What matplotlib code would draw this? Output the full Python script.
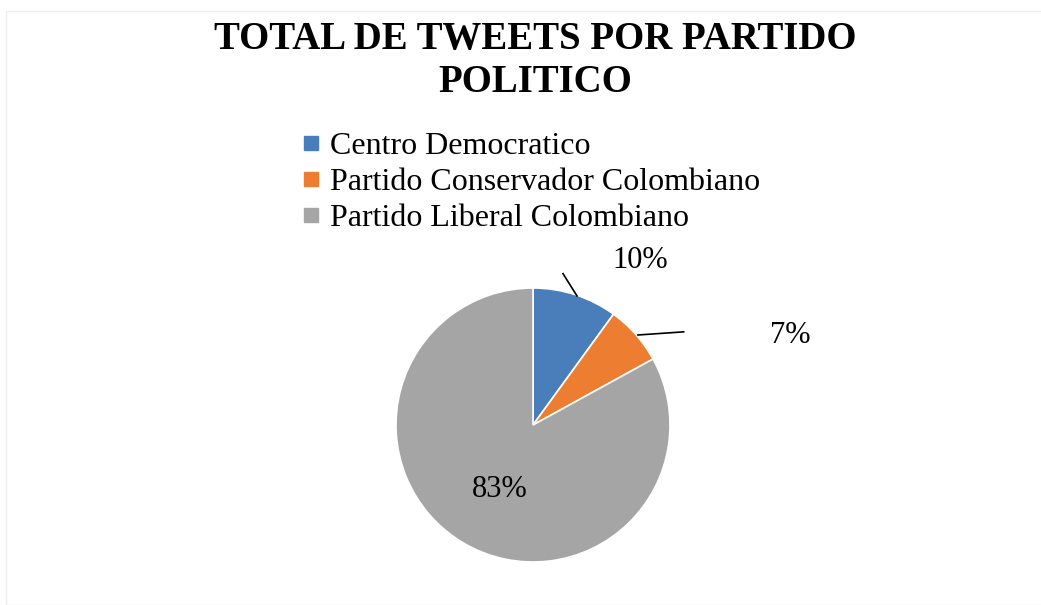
import numpy as np
import matplotlib
matplotlib.use("Agg")
import matplotlib.pyplot as plt
from matplotlib.patches import Rectangle
from matplotlib.lines import Line2D

categories = ["Centro Democratico", "Partido Conservador Colombiano", "Partido Liberal Colombiano"]
shares = [10, 7, 83]
pct_labels = ["10%", "7%", "83%"]
colors = ["#4A7EBB", "#ED7D31", "#A5A5A5"]

plt.rcParams['font.family'] = ['Liberation Serif', 'DejaVu Serif']

W, H = 1041, 605
fig = plt.figure(figsize=(W / 100, H / 100), dpi=100)
fig.patch.set_facecolor("white")

# faint outer border
fig.add_artist(Rectangle((6 / W, 0), 1.2, 1 - 11 / H, transform=fig.transFigure,
                         fill=False, edgecolor="#EEEEEE", linewidth=1.0))

fig.text(535 / W, 1 - 39 / H, "TOTAL DE TWEETS POR PARTIDO", ha="center", va="center",
         fontsize=28, fontweight="bold")
fig.text(535 / W, 1 - 82 / H, "POLITICO", ha="center", va="center",
         fontsize=28, fontweight="bold")

cx, cy, r = 533, 425, 137
ax = fig.add_axes([(cx - r) / W, (H - cy - r) / H, 2 * r / W, 2 * r / H])
wedges, _ = ax.pie(shares, colors=colors, startangle=90, counterclock=False, radius=1,
                   wedgeprops=dict(edgecolor="white", linewidth=1.2))
ax.set_xlim(-1, 1)
ax.set_ylim(-1, 1)
ax.set_aspect("auto")
ax.axis("off")

# label positions (data units relative to radius)
label_pos = [(0.78, 1.20), (1.88, 0.65), (-0.24, -0.47)]
for (lx, ly), txt in zip(label_pos, pct_labels):
    ax.text(lx, ly, txt, ha="center", va="center", fontsize=22, clip_on=False)

# leader lines
ax.add_line(Line2D([0.321, 0.219], [0.942, 1.105], color="black", lw=1.2, clip_on=False))
ax.add_line(Line2D([0.766, 1.10], [0.657, 0.68], color="black", lw=1.2, clip_on=False))

handles = [Line2D([], [], marker="s", linestyle="none", markersize=10.5,
                  markerfacecolor=c, markeredgecolor=c) for c in colors]
fig.legend(handles, categories, loc="upper left", bbox_to_anchor=(302 / W, 1 - 132 / H),
           frameon=False, fontsize=23, handlelength=0.55, handletextpad=0.32,
           labelspacing=0.2, borderaxespad=0, borderpad=0)

fig.savefig("out.png", dpi=100, facecolor="white")
